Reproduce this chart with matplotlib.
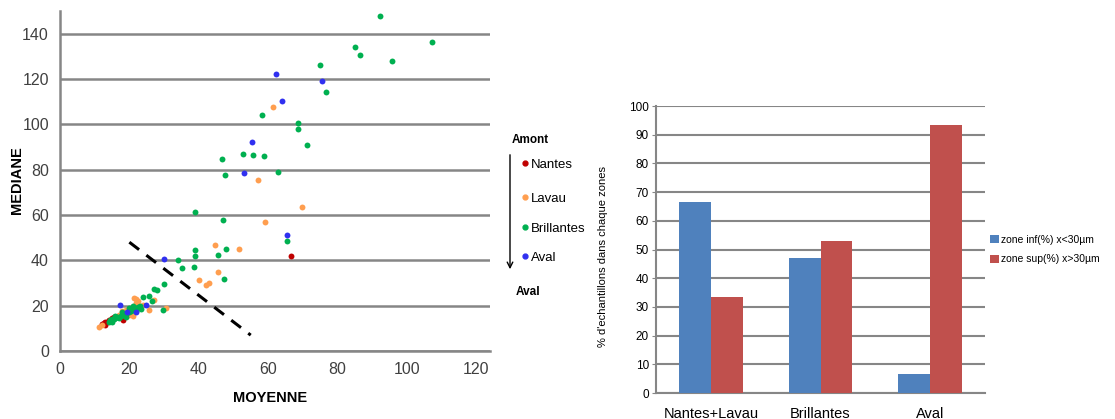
import matplotlib
matplotlib.use("Agg")
import matplotlib.pyplot as plt
from matplotlib.lines import Line2D
import numpy as np

plt.rcParams['font.family'] = ['Liberation Sans', 'DejaVu Sans']

# ---------------- scatter data (MOYENNE, MEDIANE) ----------------
nantes_x = [12.2, 12.6, 13.0, 13.5, 14.0, 15.0, 16.0, 17.0, 18.3, 19.0, 20.0, 13.0, 15.5, 66.5]
nantes_y = [11.8, 12.3, 12.8, 13.0, 13.5, 14.5, 15.0, 15.5, 13.8, 16.0, 17.5, 11.5, 15.2, 42.1]

lavau_x = [11.3, 12.0, 17.0, 18.0, 19.0, 20.0, 21.0, 21.3, 21.9, 22.0, 22.5, 25.6, 27.2, 30.5, 24.0, 21.0,
           40.0, 42.0, 43.0, 45.7, 44.8, 51.6, 59.1, 57.1, 69.8, 61.5]
lavau_y = [10.8, 11.5, 16.0, 17.5, 18.0, 16.0, 19.5, 23.4, 23.1, 21.0, 22.0, 17.9, 22.6, 19.0, 20.5, 15.5,
           31.2, 29.0, 30.1, 34.7, 46.6, 44.9, 56.9, 75.3, 63.4, 107.5]

brill_x = [14.0, 14.5, 15.0, 15.5, 16.0, 16.5, 17.0, 17.5, 18.0, 18.5, 19.0, 19.5, 20.0, 20.5, 21.0, 21.5,
           22.0, 22.5, 23.0, 21.0, 20.0, 18.0, 16.0, 15.0, 22.0, 23.5, 19.0, 17.0,
           23.9, 25.7, 26.4, 27.2, 28.0, 29.7, 30.0, 34.1, 35.2, 38.5, 38.8, 39.0, 38.8, 45.6, 48.0, 47.2,
           46.9, 65.5, 47.7, 62.9, 46.8, 52.9, 55.7, 58.9, 71.3, 68.6, 68.7, 58.3, 76.6, 75.1, 95.7,
           86.6, 85.1, 107.3, 92.3]
brill_y = [13.0, 13.5, 14.0, 14.0, 14.5, 15.0, 15.0, 15.5, 16.0, 16.0, 16.5, 17.0, 17.0, 17.5, 18.0, 18.5,
           19.0, 19.5, 20.0, 20.0, 19.0, 17.0, 15.5, 13.0, 17.5, 18.5, 15.0, 14.5,
           24.0, 24.3, 21.9, 27.4, 27.1, 18.2, 29.7, 40.0, 36.8, 37.1, 41.8, 44.4, 61.2, 42.2, 45.1, 31.9,
           57.6, 48.4, 77.6, 79.1, 84.7, 87.1, 86.3, 86.2, 91.0, 100.7, 97.9, 104.3, 114.4, 126.2, 127.9,
           130.7, 134.3, 136.2, 147.8]

aval_x = [17.4, 19.4, 22.0, 24.7, 30.0, 65.5, 53.2, 55.4, 64.1, 75.6, 62.4]
aval_y = [20.1, 17.4, 17.4, 20.4, 40.7, 51.3, 78.7, 92.1, 110.4, 119.1, 122.1]

split_x = [20, 55]
split_y = [48, 7]

# ---------------- bar data ----------------
zones = ['Nantes+Lavau', 'Brillantes', 'Aval']
zone_inf = [66.7, 47.2, 6.5]
zone_sup = [33.3, 52.8, 93.5]

W, H = 1115, 419
fig = plt.figure(figsize=(W/100, H/100), dpi=100)

def fx(px):
    return px / W

def fy(py):
    return 1 - py / H

grid_c = '#868686'

# ---------------- left scatter ----------------
ax = fig.add_axes([fx(60), fy(351), 430/W, 340/H])
ms = 18
c_n, c_l, c_b, c_a = '#C00000', '#FF9E4F', '#00B050', '#3030F0'
ax.scatter(nantes_x, nantes_y, s=ms, color=c_n, zorder=3, linewidths=0)
ax.scatter(lavau_x, lavau_y, s=ms, color=c_l, zorder=3, linewidths=0)
ax.scatter(brill_x, brill_y, s=ms, color=c_b, zorder=3, linewidths=0)
ax.scatter(aval_x, aval_y, s=ms, color=c_a, zorder=4, linewidths=0)
ax.plot(split_x, split_y, color='black', linestyle=(0, (4, 3)), linewidth=2.2, zorder=5)
ax.set_xlim(0, 124)
ax.set_ylim(0, 150)
ax.set_xticks(range(0, 121, 20))
ax.set_yticks(range(0, 141, 20))
ax.yaxis.grid(True, color=grid_c, linewidth=1.8)
ax.set_axisbelow(True)
for s in ['top', 'right']:
    ax.spines[s].set_visible(False)
for s in ['left', 'bottom']:
    ax.spines[s].set_color(grid_c)
    ax.spines[s].set_linewidth(1.8)
ax.tick_params(length=0, labelsize=11.5, colors='#404040', pad=8)
fig.text(fx(270), fy(398), 'MOYENNE', fontsize=10.5, fontweight='bold', ha='center', va='center')
fig.text(fx(17), fy(180), 'MEDIANE', fontsize=10.5, fontweight='bold', ha='center', va='center',
         rotation=90)

# legend with arrow
fig.text(fx(512), fy(140), 'Amont', fontsize=8.5, fontweight='bold', va='center')
fig.text(fx(516), fy(292), 'Aval', fontsize=8.5, fontweight='bold', va='center')
fig.add_artist(matplotlib.patches.FancyArrowPatch((fx(510), fy(152)), (fx(510), fy(272)),
                                                  transform=fig.transFigure, arrowstyle='->',
                                                  mutation_scale=10, color='black', linewidth=1))
legend_y = [163, 197, 227, 256]
for c, lab, py in zip((c_n, c_l, c_b, c_a), ['Nantes', 'Lavau', 'Brillantes', 'Aval'], legend_y):
    fig.add_artist(Line2D([fx(525)], [fy(py)], marker='o', linestyle='', color=c, markersize=3.5,
                          transform=fig.transFigure))
    fig.text(fx(531), fy(py), lab, fontsize=9.5, va='center_baseline', ha='left')

# ---------------- right bars ----------------
bx = fig.add_axes([fx(656), fy(393), 329/W, 287/H])
x = np.arange(len(zones))
w = 0.29
bx.bar(x - w/2, zone_inf, width=w, color='#4F81BD', label='zone inf(%) x<30\u00b5m', zorder=3)
bx.bar(x + w/2, zone_sup, width=w, color='#C0504D', label='zone sup(%) x>30\u00b5m', zorder=3)
bx.set_xlim(-0.5, 2.5)
bx.set_ylim(0, 100)
bx.set_yticks(range(0, 101, 10))
bx.set_xticks(x)
bx.set_xticklabels(zones, fontsize=10.5)
bx.yaxis.grid(True, color=grid_c, linewidth=1.5)
bx.set_axisbelow(True)
for s in ['top', 'right']:
    bx.spines[s].set_visible(False)
for s in ['left', 'bottom']:
    bx.spines[s].set_color(grid_c)
    bx.spines[s].set_linewidth(1.5)
bx.tick_params(axis='y', labelsize=8.5, length=3, color=grid_c, pad=2)
bx.tick_params(axis='x', length=0, pad=10)
fig.text(fx(603), fy(256), "% d'echantillons dans chaque zones", fontsize=8, ha='center', va='center',
         rotation=90)
bx.legend(loc='center left', bbox_to_anchor=(1.0, 0.5), frameon=False, fontsize=7.5,
          handlelength=0.8, handleheight=0.8, handletextpad=0.2, labelspacing=0.9, borderaxespad=0.1)

fig.savefig('out.png', dpi=100)
